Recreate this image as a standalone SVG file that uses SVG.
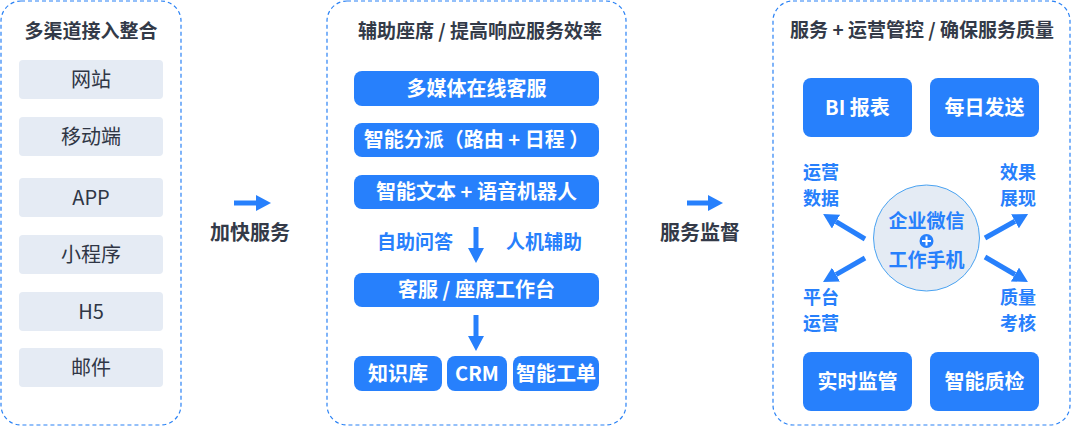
<svg xmlns="http://www.w3.org/2000/svg" width="1072" height="427" viewBox="0 0 1072 427">
<defs>
<style>
.panel{fill:#fff;stroke:#2a82f5;stroke-width:1.2;stroke-dasharray:4 3}
.title{font-family:"Noto Sans CJK SC","Noto Sans",sans-serif;font-size:19px;font-weight:700;fill:#333a48;text-anchor:middle}
.gray{fill:#e5ebf4}
.gtxt{font-family:"Noto Sans CJK SC","Noto Sans",sans-serif;font-size:20px;fill:#2f3645;text-anchor:middle}
.blue{fill:#2780fc}
.wtxt{font-family:"Noto Sans CJK SC","Noto Sans",sans-serif;font-size:20px;font-weight:700;fill:#fff;text-anchor:middle}
.btxt{font-family:"Noto Sans CJK SC","Noto Sans",sans-serif;font-size:19px;font-weight:700;fill:#2780fc;text-anchor:middle}
.ltxt{font-family:"Noto Sans CJK SC","Noto Sans",sans-serif;font-size:18px;font-weight:700;fill:#2780fc;text-anchor:middle}
.ctxt{font-family:"Noto Sans CJK SC","Noto Sans",sans-serif;font-size:19px;font-weight:700;fill:#2780fc;text-anchor:middle}
.ar{stroke:#2780fc;stroke-width:5;fill:none}
</style>
<marker id="ah" viewBox="0 0 15 16" refX="0" refY="8" markerWidth="15" markerHeight="16" orient="auto" markerUnits="userSpaceOnUse">
<path d="M0,0 L15,8 L0,16 Z" fill="#2780fc"/>
</marker>
</defs>

<g id="panel-left">
<rect class="panel" x="1" y="1" width="180" height="424" rx="20"/>
<text class="title" x="91" y="38">多渠道接入整合</text>
</g>
<g id="node-web"><rect class="gray" x="19" y="60" width="144" height="39" rx="4"/><text class="gtxt" x="91" y="86.5">网站</text></g>
<g id="node-mobile"><rect class="gray" x="19" y="117" width="144" height="39" rx="4"/><text class="gtxt" x="91" y="143.5">移动端</text></g>
<g id="node-app"><rect class="gray" x="19" y="178" width="144" height="39" rx="4"/><text class="gtxt" x="91" y="204.5">APP</text></g>
<g id="node-mini"><rect class="gray" x="19" y="235" width="144" height="39" rx="4"/><text class="gtxt" x="91" y="261.5">小程序</text></g>
<g id="node-h5"><rect class="gray" x="19" y="292" width="144" height="39" rx="4"/><text class="gtxt" x="91" y="318.5">H5</text></g>
<g id="node-mail"><rect class="gray" x="19" y="348" width="144" height="39" rx="4"/><text class="gtxt" x="91" y="374.5">邮件</text></g>

<g id="label-speed"><text class="title" style="font-size:20px" x="250" y="240">加快服务</text></g>
<g id="label-monitor"><text class="title" style="font-size:20px" x="700" y="240">服务监督</text></g>

<g id="panel-middle">
<rect class="panel" x="327" y="1" width="299" height="424" rx="20"/>
<text class="title" x="480" y="38">辅助座席 / 提高响应服务效率</text>
</g>
<g id="node-multimedia"><rect class="blue" x="354" y="71" width="245" height="35" rx="8"/><text class="wtxt" x="476.5" y="95.5">多媒体在线客服</text></g>
<g id="node-dispatch"><rect class="blue" x="354" y="123" width="245" height="34" rx="8"/><text class="wtxt" x="476.5" y="147">智能分派（路由 + 日程 ）</text></g>
<g id="node-robot"><rect class="blue" x="354" y="175" width="245" height="34" rx="8"/><text class="wtxt" x="476.5" y="199">智能文本 + 语音机器人</text></g>
<g id="label-self"><text class="btxt" x="415" y="249">自助问答</text></g>
<g id="label-hm"><text class="btxt" x="544" y="249">人机辅助</text></g>
<g id="node-workbench"><rect class="blue" x="354" y="273" width="245" height="34" rx="8"/><text class="wtxt" x="476.5" y="297">客服 / 座席工作台</text></g>
<g id="node-kb"><rect class="blue" x="354" y="356" width="88" height="35" rx="8"/><text class="wtxt" x="398" y="380.5">知识库</text></g>
<g id="node-crm"><rect class="blue" x="447" y="356" width="60" height="35" rx="8"/><text class="wtxt" x="477" y="380.5">CRM</text></g>
<g id="node-ticket"><rect class="blue" x="513" y="356" width="86" height="35" rx="8"/><text class="wtxt" x="556" y="380.5">智能工单</text></g>

<g id="panel-right">
<rect class="panel" x="773" y="1" width="297" height="424" rx="20"/>
<text class="title" x="922" y="37">服务 + 运营管控 / 确保服务质量</text>
</g>
<g id="node-bi"><rect class="blue" x="803" y="78" width="109" height="59" rx="8"/><text class="wtxt" x="857.5" y="114.5">BI 报表</text></g>
<g id="node-daily"><rect class="blue" x="930" y="78" width="109" height="59" rx="8"/><text class="wtxt" x="984.5" y="114.5">每日发送</text></g>
<g id="node-realtime"><rect class="blue" x="803" y="352" width="109" height="59" rx="8"/><text class="wtxt" x="857.5" y="388.5">实时监管</text></g>
<g id="node-qc"><rect class="blue" x="930" y="352" width="109" height="59" rx="8"/><text class="wtxt" x="984.5" y="388.5">智能质检</text></g>
<g id="node-center">
<circle cx="926.5" cy="238" r="53" fill="#e4ebf4" stroke="#4aa3f2" stroke-width="1"/>
<text class="ctxt" x="926.5" y="228">企业微信</text>
<circle cx="926.5" cy="241" r="7" fill="#2780fc"/>
<path d="M922,241 H931 M926.5,236.5 V245.5" stroke="#fff" stroke-width="2"/>
<text class="ctxt" x="926.5" y="267">工作手机</text>
</g>
<g id="label-opdata"><text class="ltxt" x="821" y="178.5">运营</text><text class="ltxt" x="821" y="205">数据</text></g>
<g id="label-effect"><text class="ltxt" x="1018" y="178.5">效果</text><text class="ltxt" x="1018" y="205">展现</text></g>
<g id="label-platform"><text class="ltxt" x="821" y="303.5">平台</text><text class="ltxt" x="821" y="330">运营</text></g>
<g id="label-quality"><text class="ltxt" x="1018" y="303.5">质量</text><text class="ltxt" x="1018" y="330">考核</text></g>

<g id="connectors">
<line class="ar" x1="234" y1="203" x2="256" y2="203" marker-end="url(#ah)"/>
<line class="ar" x1="687" y1="203" x2="708" y2="203" marker-end="url(#ah)"/>
<line class="ar" x1="476" y1="227" x2="476" y2="248" marker-end="url(#ah)"/>
<line class="ar" x1="476" y1="315" x2="476" y2="336" marker-end="url(#ah)"/>
<line class="ar" x1="865" y1="239" x2="836" y2="221.7" marker-end="url(#ah)"/>
<line class="ar" x1="865" y1="258" x2="836" y2="274.6" marker-end="url(#ah)"/>
<line class="ar" x1="985" y1="238" x2="1015" y2="221.3" marker-end="url(#ah)"/>
<line class="ar" x1="985" y1="257" x2="1015" y2="274.5" marker-end="url(#ah)"/>
</g>
</svg>
